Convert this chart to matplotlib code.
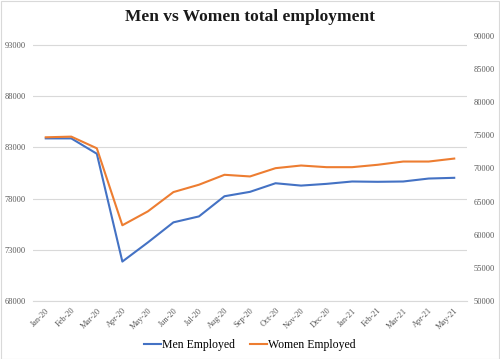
import matplotlib
matplotlib.use('Agg')
import matplotlib.pyplot as plt
from matplotlib.patches import Rectangle

months = ['Jan-20', 'Feb-20', 'Mar-20', 'Apr-20', 'May-20', 'Jun-20', 'Jul-20',
          'Aug-20', 'Sep-20', 'Oct-20', 'Nov-20', 'Dec-20', 'Jan-21', 'Feb-21',
          'Mar-21', 'Apr-21', 'May-21']
men = [83880, 83880, 82380, 71850, 73720, 75680, 76260, 78230, 78660, 79500,
       79270, 79440, 79670, 79640, 79670, 79960, 80030]
women = [74710, 74810, 73050, 61430, 63530, 66440, 67550, 69050, 68800, 70050,
         70450, 70200, 70200, 70560, 71050, 71050, 71500]
left_ticks = [68000, 73000, 78000, 83000, 88000, 93000]
right_ticks = [50000, 55000, 60000, 65000, 70000, 75000, 80000, 85000, 90000]

serif = 'Liberation Serif'
grey = '#595959'

fig = plt.figure(figsize=(5, 3.59), dpi=100)
ax = fig.add_axes([0.066, 0.1616, 0.868, 0.7381])
ax2 = ax.twinx()

x = list(range(len(months)))
l1, = ax.plot(x, men, color='#4472C4', lw=1.5, label='Men Employed')
l2, = ax2.plot(x, women, color='#ED7D31', lw=1.5, label='Women Employed')

ax.set_xlim(-0.5, len(months) - 0.5)
ax.set_ylim(68000, 93880)
ax2.set_ylim(50000, 90000)
ax.set_yticks(left_ticks)
ax2.set_yticks(right_ticks)
ax.grid(axis='y', color='#d9d9d9', lw=0.8)
ax.set_axisbelow(True)

ax.set_xticks(x)
ax.set_xticklabels(months, rotation=45, ha='right', va='top',
                   rotation_mode='anchor', fontsize=6, color=grey, family=serif)
for a in (ax, ax2):
    for s in a.spines.values():
        s.set_visible(False)
    a.tick_params(length=0)
ax.spines['bottom'].set_visible(True)
ax.spines['bottom'].set_color('#d9d9d9')
ax.tick_params(axis='x', pad=4)
ax.tick_params(axis='y', pad=5)
ax2.tick_params(axis='y', pad=5)
for lab in ax.get_yticklabels() + ax2.get_yticklabels():
    lab.set_fontsize(6)
    lab.set_color(grey)
    lab.set_family(serif)

fig.text(0.5, 0.952, 'Men vs Women total employment', ha='center', va='center',
         fontsize=12.5, fontweight='bold', family=serif, color='#1a1a1a')

fig.legend(handles=[l1, l2], loc='center', bbox_to_anchor=(0.5, 0.04), ncol=2,
           frameon=False, prop={'family': serif, 'size': 8.5}, handlelength=1.4,
           handletextpad=0.1, columnspacing=1.3)

fig.patches.append(Rectangle((0.001, 0.001), 0.997, 0.997, transform=fig.transFigure,
                             fill=False, edgecolor='#d9d9d9', lw=0.8))

fig.savefig('out.png', dpi=100)
